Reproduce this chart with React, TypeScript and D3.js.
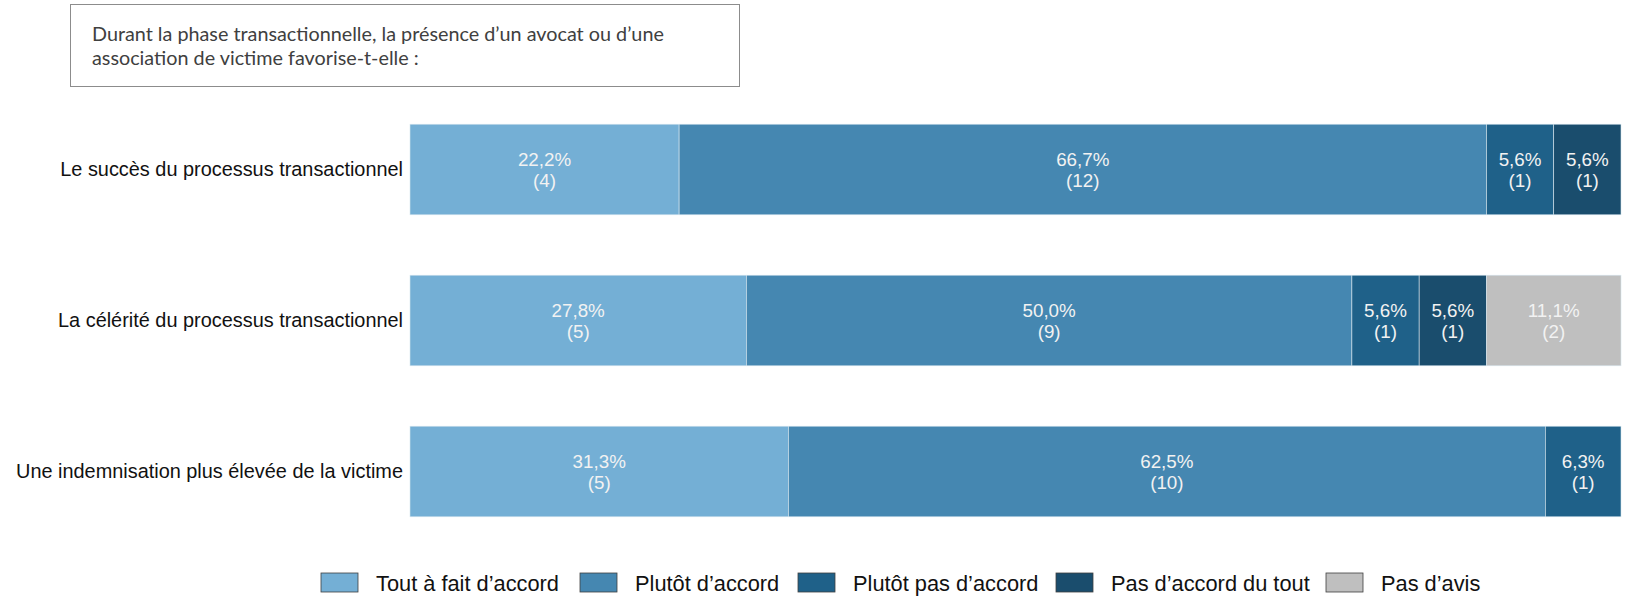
import React from "react";
import * as d3 from "d3";

const categories = [
  "Le succès du processus transactionnel",
  "La célérité du processus transactionnel",
  "Une indemnisation plus élevée de la victime",
];
const seriesNames = [
  "Tout à fait d’accord",
  "Plutôt d’accord",
  "Plutôt pas d’accord",
  "Pas d’accord du tout",
  "Pas d’avis",
];
const toutAFait = [4, 5, 5];
const plutotAccord = [12, 9, 10];
const plutotPas = [1, 1, 1];
const pasDuTout = [1, 1, 0];
const pasDavis = [0, 2, 0];
const colors = ["#74afd5", "#4587b1", "#1f6189", "#1a4d6d", "#bfbfbf"];
const titleLines = [
  "Durant la phase transactionnelle, la présence d’un avocat ou d’une",
  "association de victime favorise-t-elle :",
];

const W = 1640;
const H = 597;
const LBL = "'Liberation Sans', Arial, sans-serif";

export default function App() {
  const series = [toutAFait, plutotAccord, plutotPas, pasDuTout, pasDavis];
  const x = d3.scaleLinear().domain([0, 1]).range([410, 1621]);
  const y = d3
    .scaleBand<string>()
    .domain(categories)
    .range([94, 547])
    .paddingInner(0.4)
    .paddingOuter(0.2);

  const rows = categories.map((c, i) => {
    const counts = series.map((s) => s[i]);
    const total = d3.sum(counts);
    let acc = 0;
    const segs = counts.map((v, k) => {
      const p0 = acc / total;
      acc += v;
      return { k, v, p0, p1: acc / total, pct: (v / total) * 100 };
    });
    return { c, segs };
  });

  const fmt = (p: number) => p.toFixed(1).replace(".", ",") + "%";

  const legendX = [321, 580, 798, 1056, 1326];

  return (
    <svg
      width={W}
      height={H}
      style={{ position: "absolute", left: 0, top: 0, background: "#fff" }}
    >
      <rect x={70.5} y={4.5} width={669} height={82} fill="#fff" stroke="#8c8c8c" strokeWidth={1} />
      {titleLines.map((t, i) => (
        <text
          key={i}
          x={92}
          y={41 + i * 24}
          fontFamily="Lato, 'Open Sans', sans-serif"
          fontSize={19.8}
          fill="#404040"
        >
          {t}
        </text>
      ))}
      {rows.map((r) => {
        const y0 = y(r.c)!;
        const bh = y.bandwidth();
        const cy = y0 + bh / 2;
        return (
          <g key={r.c}>
            <text
              x={403}
              y={cy}
              dy="0.35em"
              textAnchor="end"
              fontFamily={LBL}
              fontSize={19.9}
              fill="#111"
            >
              {r.c}
            </text>
            {r.segs
              .filter((s) => s.v > 0)
              .map((s) => (
                <g key={s.k}>
                  <rect
                    x={x(s.p0)}
                    y={y0}
                    width={x(s.p1) - x(s.p0)}
                    height={bh}
                    fill={colors[s.k]}
                    stroke="#d8e6ef"
                    strokeWidth={0.6}
                  />
                  <text
                    x={(x(s.p0) + x(s.p1)) / 2}
                    y={cy - 10.5}
                    dy="0.35em"
                    textAnchor="middle"
                    fontFamily={LBL}
                    fontSize={18.8}
                    fill="#f2f2f2"
                  >
                    {fmt(s.pct)}
                  </text>
                  <text
                    x={(x(s.p0) + x(s.p1)) / 2}
                    y={cy + 10.5}
                    dy="0.35em"
                    textAnchor="middle"
                    fontFamily={LBL}
                    fontSize={18.8}
                    fill="#f2f2f2"
                  >
                    {`(${s.v})`}
                  </text>
                </g>
              ))}
          </g>
        );
      })}
      {seriesNames.map((n, k) => (
        <g key={n}>
          <rect
            x={legendX[k]}
            y={573}
            width={37}
            height={19}
            fill={colors[k]}
            stroke="#404040"
            strokeWidth={0.8}
          />
          <text
            x={legendX[k] + 55}
            y={583}
            dy="0.35em"
            fontFamily={LBL}
            fontSize={21.8}
            fill="#111"
          >
            {n}
          </text>
        </g>
      ))}
    </svg>
  );
}
